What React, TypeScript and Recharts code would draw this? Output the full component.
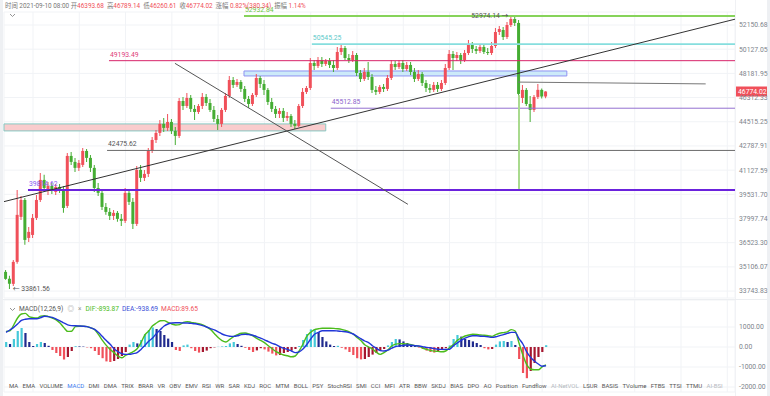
import React from "react";
import {
  Bar,
  CartesianGrid,
  Cell,
  ComposedChart,
  Line,
  ReferenceArea,
  ReferenceDot,
  ReferenceLine,
  XAxis,
  YAxis,
} from "recharts";

// candles, [open, high, low, close]
const ohlc: [number, number, number, number][] = [
  [34820, 34935, 34370, 34425], [34425, 34595, 33861.56, 34145], [34145, 35510, 34030, 35395], [35395, 39820, 35280, 38225],
  [38100, 39430, 37910, 39170], [39170, 39300, 36395, 36690], [36810, 37480, 36570, 37175], [36990, 38285, 36810, 38035],
  [38035, 39495, 37910, 39170], [39170, 40940, 39045, 40475], [40475, 40810, 39690, 39945], [39820, 40340, 39495, 40080],
  [40080, 40275, 39560, 39755], [39690, 40210, 39495, 40015], [40015, 40210, 39625, 39820], [39820, 40080, 38350, 38660],
  [38790, 42305, 38660, 42095], [42095, 42370, 41480, 41685], [41685, 41960, 41010, 41280], [41280, 41820, 41075, 41615],
  [41480, 42650, 41345, 42440], [42440, 42580, 41685, 41960], [41960, 42165, 41010, 41280], [41280, 41480, 39690, 39945],
  [39945, 40275, 39430, 39625], [39625, 39820, 38535, 38725], [38725, 38980, 38225, 38410], [38410, 38660, 37910, 38160],
  [38160, 38535, 37910, 38350], [38350, 38475, 37790, 37975], [37975, 38285, 37540, 37850], [37850, 39945, 37725, 39625],
  [39625, 39820, 38855, 39045], [39045, 39300, 37355, 37665], [37665, 41415, 37540, 41145], [41145, 41480, 40340, 40610],
  [40610, 41145, 40410, 40875], [40875, 42650, 40675, 42440], [42440, 43425, 42305, 43210], [43210, 43925, 43000, 43710],
  [43710, 44650, 43495, 44360], [44360, 44795, 43780, 44070], [44070, 45090, 43855, 44500], [44500, 44720, 43640, 43855],
  [43855, 44140, 42860, 43495], [43495, 46285, 43355, 46055], [46055, 46360, 45385, 45680], [45680, 46665, 45535, 46285],
  [46285, 46510, 45235, 45460], [45460, 45755, 44650, 45235], [45235, 45830, 45090, 45680], [45680, 46665, 45460, 46360],
  [46360, 46590, 45680, 45905], [45905, 46210, 45235, 45385], [45385, 45680, 44500, 44720], [44720, 45015, 43925, 44360],
  [44360, 45530, 44140, 45385], [45385, 46665, 45235, 46435], [46435, 47980, 46285, 47665], [47665, 47900, 47045, 47280],
  [47280, 47745, 47125, 47510], [47510, 47665, 46740, 46970], [46970, 47200, 45980, 46210], [46210, 46435, 45530, 45830],
  [45830, 46665, 45680, 46510], [46510, 48135, 46360, 47820], [47820, 47980, 47045, 47355], [47355, 47665, 46510, 46895],
  [46895, 47045, 45755, 45980], [45980, 46285, 45235, 45460], [45460, 45680, 44795, 45090], [45090, 45530, 44795, 45310],
  [45310, 45530, 44500, 44795], [44795, 45235, 44575, 44940], [44940, 45090, 44140, 44360], [44360, 44650, 43995, 44215],
  [44215, 45830, 44140, 45680], [45680, 47045, 45530, 46740], [46740, 47200, 46585, 47045], [47045, 49410, 46895, 49010],
  [49010, 49250, 48450, 48770], [48770, 49495, 48610, 49250], [49250, 49495, 48690, 48930], [48930, 49330, 48770, 49170],
  [49170, 49410, 48610, 48850], [48850, 49250, 48295, 48610], [48610, 50310, 48450, 49900], [49900, 50470, 49655, 50225],
  [50225, 50390, 49250, 49410], [49410, 49735, 49010, 49250], [49250, 49980, 49090, 49655], [49655, 49815, 47980, 48215],
  [48215, 48450, 47510, 47745], [47745, 48610, 47590, 48295], [48295, 49090, 47665, 47900], [47900, 48135, 46665, 46895],
  [46895, 47200, 46510, 46740], [46740, 47280, 46585, 47125], [47125, 47355, 46740, 46970], [46970, 48055, 46815, 47820],
  [47820, 49250, 47665, 48930], [48930, 49170, 48450, 48690], [48690, 49250, 48530, 49010], [49010, 49250, 48295, 48530],
  [48530, 49090, 48370, 48850], [48850, 49090, 48055, 48295], [48295, 48610, 47510, 47745], [47745, 48450, 47590, 48135],
  [48135, 48295, 47200, 47430], [47430, 47665, 46740, 47045], [47045, 47355, 46665, 46895], [46895, 47510, 46740, 47280],
  [47280, 47510, 46740, 46970], [46970, 47665, 46815, 47430], [47430, 48930, 47280, 48610], [48610, 50060, 48450, 49735],
  [49735, 49980, 48450, 49410], [49410, 49900, 49170, 49655], [49655, 49815, 48930, 49250], [49250, 50060, 49090, 49815],
  [49815, 50885, 49655, 50555], [50555, 50720, 49815, 50145], [50145, 50390, 49735, 49980], [49980, 50555, 49815, 50310],
  [50310, 50470, 49735, 49900], [49900, 50225, 49655, 49815], [49815, 50720, 49655, 50390], [50390, 51895, 50225, 51555],
  [51555, 52065, 51305, 51810], [51725, 51980, 50885, 51135], [51135, 52410, 50970, 52150], [52150, 52974.14, 51980, 52665],
  [52665, 52840, 52065, 52325], [52325, 52580, 45830, 46590], [46285, 47280, 45905, 46895], [46895, 47045, 45680, 45830],
  [45830, 46435, 44500, 45385], [45385, 46510, 45235, 46360], [46360, 47355, 46200, 46900], [46900, 47000, 46250, 46393.68],
  [46393.68, 46789.14, 46260.61, 46774.02],
];

const dif = [
  780, 810, 1100, 1450, 1650, 1680, 1520, 1470, 1450, 1540,
  1570, 1520, 1450, 1360, 1200, 970, 780, 790, 1020, 1040,
  1040, 1020, 960, 860, 620, 330, 80, -120, -280, -450,
  -540, -420, -330, -230, -90, 220, 600, 800, 1060, 1200,
  1310, 1320, 1230, 1150, 1100, 1120, 1230, 1270, 1230, 1200,
  1160, 1110, 1000, 880, 680, 470, 320, 250, 380, 520,
  620, 690, 700, 650, 560, 430, 330, 220, 60, -90,
  -230, -320, -400, -440, -490, -450, -200, 150, 540, 740,
  870, 910, 935, 935, 935, 930, 910, 880, 830, 760,
  650, 475, 320, 110, 0, -100, -260, -370, -280, -150,
  50, 140, 170, 160, 140, 120, 70, 40, -50, -120,
  -170, -205, -220, -240, -200, -30, 120, 330, 450, 550,
  600, 640, 630, 600, 590, 570, 530, 620, 690, 720,
  760, 870, 800, 200, -400, -880, -1100, -1140, -1140, -990,
  -893.87,
];

const dea = [
  730, 850, 980, 1150, 1330, 1390, 1410, 1410, 1410, 1470,
  1540, 1520, 1480, 1400, 1310, 1200, 1110, 1070, 1060, 1050,
  1040, 1020, 960, 880, 720, 520, 320, 140, -90, -230,
  -330, -370, -370, -330, -280, -120, 80, 290, 450, 680,
  860, 1050, 1150, 1200, 1210, 1210, 1200, 1200, 1180, 1160,
  1120, 1070, 1000, 920, 860, 760, 650, 580, 540, 530,
  560, 620, 640, 620, 590, 520, 440, 360, 270, 180,
  120, 20, -70, -120, -200, -280, -240, -100, 130, 400,
  640, 730, 815, 815, 815, 815, 800, 780, 765, 720,
  650, 530, 420, 300, 220, 60, -60, -180, -200, -160,
  -60, 20, 50, 80, 100, 90, 70, 50, 20, -20,
  -40, -80, -110, -120, -120, -110, 60, 200, 330, 440,
  520, 560, 560, 540, 530, 510, 480, 510, 570, 620,
  680, 730, 730, 420, 150, -240, -520, -700, -850, -960,
  -938.69,
];

const macdHist = [
  250, 150, 400, 800, 950, 700, 250, 50, 150, 250,
  200, 60, -150, -300, -450, -620, -500, -200, 40, 30,
  20, -20, -60, -200, -400, -560, -720, -750, -700, -600,
  -450, -250, 120, 250, 180, 350, 650, 850, 980, 900,
  800, 600, 420, 250, -150, -200, 80, 120, -60, -200,
  -280, -250, -180, -60, -20, 10, 30, 50, 180, 250,
  150, 60, -40, -150, -250, -170, -60, -120, -230, -330,
  -420, -400, -300, -250, -180, -100, 50, 350, 650, 880,
  900, 750, 500, 280, 120, 50, 60, -40, -120, -250,
  -400, -560, -620, -600, -500, -380, -300, -200, -100, 80,
  250, 400, 380, 280, 200, 120, 60, -30, -100, -180,
  -250, -280, -220, -120, -60, 80, 400, 600, 520, 400,
  350, 280, 200, 100, -60, -120, -100, 120, 280, 300,
  250, 300, 100, -600, -1300, -1560, -1200, -800, -500, -250,
  89.65,
];

const priceTicks = [
  52150.68, 50127.05, 48181.95, 46312.33, 44515.25, 42787.91,
  41127.59, 39531.7, 37997.74, 36523.3, 35106.07, 33743.83,
];
const macdTicks = [1000, 0, -1000, -2000];
const gridIdx = [7, 19, 31, 43, 55, 67, 79, 91, 103, 115, 127, 139, 151, 163, 175, 187];

const levelPrices = [52932.84, 50545.25, 49193.49, 45512.85, 42475.62, 39814.62];
const highPrice = 52974.14;
const lowPrice = 33861.56;
const lastPrice = 46774.02;

const tabs = [
  "MA", "EMA", "VOLUME", "MACD", "DMI", "DMA", "TRIX", "BRAR", "VR", "OBV", "EMV", "RSI", "WR",
  "SAR", "KDJ", "ROC", "MTM", "BOLL", "PSY", "StochRSI", "SMI", "CCI", "MFI", "ATR", "BBW", "SKDJ",
  "BIAS", "DPO", "AO", "Position", "Fundflow", "AI-NetVOL", "LSUR", "BASIS", "TVolume", "FTBS",
  "TTSI", "TTMU", "AI-BSI",
];

const UP = "#f0505a";
const DOWN = "#45ad33";
const FONT = "Roboto, 'Noto Sans CJK SC', sans-serif";
const X_DOMAIN: [number, number] = [-0.52, 189];

function LevelLabel({ viewBox, text, color }: any) {
  if (!viewBox) return null;
  return (
    <text x={viewBox.x + 1} y={viewBox.y - 4} fill={color} fontSize={6.8} fontFamily={FONT}>
      {text}
    </text>
  );
}

function DotLabel({ viewBox, text, side }: any) {
  if (!viewBox) return null;
  const x = viewBox.x + (side === "right" ? 3 : -3);
  return (
    <text x={x} y={viewBox.y + 2.5} fill="#555" fontSize={6.8} fontFamily={FONT}
      textAnchor={side === "right" ? "start" : "end"}>
      {text}
    </text>
  );
}

function PriceTag({ viewBox }: any) {
  if (!viewBox) return null;
  const x = viewBox.x + viewBox.width + 1;
  return (
    <g>
      <rect x={x} y={viewBox.y - 5} width={31} height={10} fill={UP} />
      <text x={x + 2} y={viewBox.y + 2.5} fill="#fff" fontSize={6.8} fontFamily={FONT}>
        {lastPrice.toFixed(2)}
      </text>
    </g>
  );
}

function Chevron({ x, y }: { x: number; y: number }) {
  return (
    <svg style={{ position: "absolute", left: x, top: y }} width={7} height={5}>
      <polyline points="1,1 3.5,3.5 6,1" fill="none" stroke="#888" strokeWidth={0.9} />
    </svg>
  );
}

export default function App() {
  const priceRows = ohlc.map(([o, h, l, c], i) => ({
    i,
    wick: [l, h],
    body: [Math.min(o, c), Math.max(o, c)],
    up: c >= o,
  }));
  const macdRows = macdHist.map((v, i) => ({ i, hist: v, dif: dif[i], dea: dea[i] }));
  const histColor = (v: number, prev: number) =>
    v >= 0 ? (v >= prev ? "#45c9d9" : "#1f2a8e") : v <= prev ? "#f0505a" : "#a5172f";

  const last = ohlc[ohlc.length - 1];
  const prevClose = ohlc[ohlc.length - 2][3];
  const lab = { color: "#777" };
  const val = { color: UP, marginRight: 3 };

  return (
    <div style={{ position: "relative", width: 770, height: 396, background: "#fff", overflow: "hidden", fontFamily: FONT }}>
      <style>{`body{margin:0}`}</style>
      <div style={{ position: "absolute", left: 0, top: 0, width: 3, height: 396, background: "#eef0f3" }} />
      <div style={{ position: "absolute", left: 767, top: 0, width: 3, height: 396, background: "#eef0f3" }} />
      <div style={{ position: "absolute", left: 735, top: 0, width: 1, height: 396, background: "#f0f1f4" }} />
      <div style={{ position: "absolute", left: 3, top: 299, width: 764, height: 1, background: "#eceef1" }} />

      <div style={{ position: "absolute", left: 0, top: 0 }}>
        <ComposedChart width={770} height={300} data={priceRows} margin={{ top: 12, right: 0, bottom: 2, left: 4 }}>
          <CartesianGrid stroke="#f1f3f6" />
          <XAxis xAxisId={0} dataKey="i" type="number" domain={X_DOMAIN} ticks={gridIdx} hide allowDataOverflow />
          <XAxis xAxisId="b" dataKey="i" type="number" domain={X_DOMAIN} hide allowDataOverflow />
          <YAxis
            orientation="right"
            scale="log"
            domain={[33364, 53272]}
            allowDataOverflow
            ticks={priceTicks}
            interval={0}
            tickFormatter={(v: number) => v.toFixed(2)}
            width={35}
            axisLine={false}
            tickLine={false}
            tickSize={0}
            tickMargin={4}
            tick={{ fontSize: 6.8, fill: "#80858d", fontFamily: FONT }}
          />

          <ReferenceArea x1={-0.52} x2={82.9} y1={43853} y2={44358} fill="#f8c6c8" fillOpacity={0.9} stroke="#86c8c2" ifOverflow="visible" />
          <ReferenceArea x1={61.7} x2={145.4} y1={47979} y2={48372} fill="#c8e9f8" fillOpacity={0.9} stroke="#8f92f2" ifOverflow="visible" />

          <Bar xAxisId={0} dataKey="wick" barSize={1} isAnimationActive={false}>
            {priceRows.map((r) => <Cell key={r.i} fill={r.up ? UP : DOWN} />)}
          </Bar>
          <Bar xAxisId="b" dataKey="body" barSize={3} isAnimationActive={false}>
            {priceRows.map((r) => <Cell key={r.i} fill={r.up ? UP : DOWN} />)}
          </Bar>

          <ReferenceLine segment={[{ x: 61.7, y: levelPrices[0] }, { x: 189, y: levelPrices[0] }]} stroke="#86d35a" strokeWidth={2}
            label={<LevelLabel text={levelPrices[0].toFixed(2)} color="#6cc63f" />} />
          <ReferenceLine segment={[{ x: 79.3, y: levelPrices[1] }, { x: 189, y: levelPrices[1] }]} stroke="#86dede" strokeWidth={1.6}
            label={<LevelLabel text={levelPrices[1].toFixed(2)} color="#5ccaca" />} />
          <ReferenceLine segment={[{ x: 26.7, y: levelPrices[2] }, { x: 189, y: levelPrices[2] }]} stroke="#d8246a" strokeWidth={1}
            label={<LevelLabel text={levelPrices[2].toFixed(2)} color="#e0407a" />} />
          <ReferenceLine segment={[{ x: 84.2, y: levelPrices[3] }, { x: 189, y: levelPrices[3] }]} stroke="#9470d0" strokeWidth={1}
            label={<LevelLabel text={levelPrices[3].toFixed(2)} color="#8a63cc" />} />
          <ReferenceLine segment={[{ x: 26.2, y: levelPrices[4] }, { x: 189, y: levelPrices[4] }]} stroke="#6a6a6a" strokeWidth={1}
            label={<LevelLabel text={levelPrices[4].toFixed(2)} color="#555" />} />
          <ReferenceLine segment={[{ x: 5.7, y: levelPrices[5] }, { x: 189, y: levelPrices[5] }]} stroke="#6b22dd" strokeWidth={2}
            label={<LevelLabel text={levelPrices[5].toFixed(2)} color="#8a5cf0" />} />

          <ReferenceLine segment={[{ x: 132.7, y: 47500 }, { x: 181.4, y: 47360 }]} stroke="#777" strokeWidth={1} />
          <ReferenceLine segment={[{ x: -0.52, y: 39063 }, { x: 189, y: 52649 }]} stroke="#333" strokeWidth={1} ifOverflow="visible" />
          <ReferenceLine segment={[{ x: 43.8, y: 48982 }, { x: 104.2, y: 38890 }]} stroke="#555" strokeWidth={1} />
          <ReferenceLine segment={[{ x: 133, y: 46500 }, { x: 133, y: 39880 }]} stroke="#a9da8e" strokeWidth={2} />

          <ReferenceLine y={lastPrice} stroke="none" label={<PriceTag />} />
          <ReferenceDot x={1} y={lowPrice} r={0} fill="none" stroke="none"
            label={<DotLabel text={`← ${lowPrice}`} side="right" />} />
          <ReferenceDot x={131} y={highPrice} r={0} fill="none" stroke="none"
            label={<DotLabel text={`${highPrice} →`} side="left" />} />
        </ComposedChart>
      </div>

      <div style={{ position: "absolute", left: 0, top: 300 }}>
        <ComposedChart width={770} height={96} data={macdRows} margin={{ top: 0, right: 0, bottom: 4, left: 4 }}>
          <CartesianGrid stroke="#f1f3f6" />
          <XAxis dataKey="i" type="number" domain={X_DOMAIN} ticks={gridIdx} hide allowDataOverflow />
          <YAxis
            orientation="right"
            domain={[-2250, 2350]}
            allowDataOverflow
            ticks={macdTicks}
            interval={0}
            tickFormatter={(v: number) => v.toFixed(2)}
            width={35}
            axisLine={false}
            tickLine={false}
            tickSize={0}
            tickMargin={4}
            tick={{ fontSize: 6.8, fill: "#80858d", fontFamily: FONT }}
          />
          <Bar dataKey="hist" barSize={2.2} isAnimationActive={false}>
            {macdRows.map((r, i) => (
              <Cell key={i} fill={histColor(r.hist, i > 0 ? macdHist[i - 1] : 0)} />
            ))}
          </Bar>
          <Line dataKey="dif" type="monotone" stroke="#4cbc1c" strokeWidth={1.4} dot={false} isAnimationActive={false} />
          <Line dataKey="dea" type="monotone" stroke="#2136d8" strokeWidth={1.4} dot={false} isAnimationActive={false} />
        </ComposedChart>
      </div>

      <div style={{ position: "absolute", left: 5, top: 1, fontSize: 6.4, lineHeight: "10px", whiteSpace: "nowrap" }}>
        <span style={lab}>时间 2021-09-10 08:00 </span>
        <span style={lab}>开</span><span style={val}>{last[0].toFixed(2)}</span>
        <span style={lab}>高</span><span style={val}>{last[1].toFixed(2)}</span>
        <span style={lab}>低</span><span style={val}>{last[2].toFixed(2)}</span>
        <span style={lab}>收</span><span style={val}>{last[3].toFixed(2)}</span>
        <span style={lab}>涨幅 </span><span style={val}>0.82%({(last[3] - prevClose).toFixed(2)})</span>
        <span style={lab}>振幅 </span><span style={val}>1.14%</span>
      </div>
      <Chevron x={9} y={13} />

      <Chevron x={9} y={307} />
      <div style={{ position: "absolute", left: 19, top: 304, fontSize: 6.6, lineHeight: "10px", whiteSpace: "nowrap" }}>
        <span style={{ color: "#555", marginRight: 4 }}>MACD(12,26,9)</span>
        <span style={{ color: "#999", marginRight: 4 }}>◎</span>
        <span style={{ color: "#999", marginRight: 4 }}>×</span>
        <span style={{ color: "#4cbc1c", marginRight: 3 }}>DIF:{dif[dif.length - 1]}</span>
        <span style={{ color: "#3a4fd8", marginRight: 3 }}>DEA:{dea[dea.length - 1]}</span>
        <span style={{ color: UP }}>MACD:{macdHist[macdHist.length - 1]}</span>
      </div>

      <div style={{ position: "absolute", left: 9, top: 381, display: "flex", gap: 4.3, fontSize: 6, lineHeight: "10px", whiteSpace: "nowrap" }}>
        {tabs.map((t) => (
          <span key={t} style={{ color: t === "MACD" ? "#3d7bf0" : t.startsWith("AI-") ? "#b5b9c0" : "#555" }}>{t}</span>
        ))}
      </div>
    </div>
  );
}
